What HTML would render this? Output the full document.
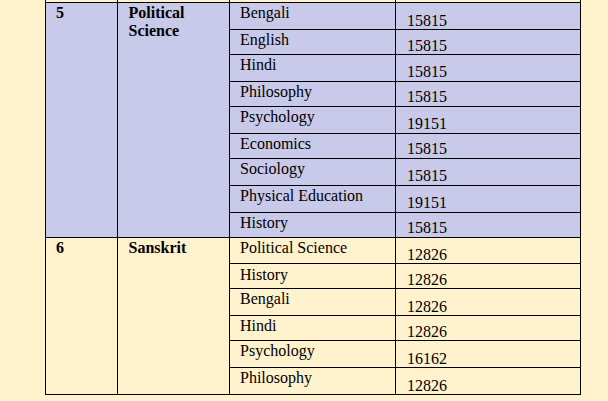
<!DOCTYPE html>
<html><head><meta charset="utf-8"><title>Table</title>
<style>
html,body{margin:0;padding:0;}
body{width:608px;height:401px;overflow:hidden;background:#FFF2CC;position:relative;font-family:"Liberation Serif",serif;font-size:16px;color:#000;}
.pg{position:absolute;left:0;top:0;width:608px;height:401px;overflow:hidden;background:#FFF2CC;}
.pu{position:absolute;background:#C9C9E9;}
.h{position:absolute;height:1px;background:#000;}
.v{position:absolute;width:1px;background:#000;}
.t{position:absolute;white-space:nowrap;line-height:18px;height:18px;}
.b{font-weight:bold;}
</style></head><body><div class="pg">
<div class="pu" style="left:45px;top:3px;width:535px;height:234px"></div>
<div class="h" style="left:45px;top:2px;width:536px"></div>
<div class="h" style="left:229px;top:29px;width:352px"></div>
<div class="h" style="left:229px;top:54px;width:352px"></div>
<div class="h" style="left:229px;top:81px;width:352px"></div>
<div class="h" style="left:229px;top:106px;width:352px"></div>
<div class="h" style="left:229px;top:133px;width:352px"></div>
<div class="h" style="left:229px;top:158px;width:352px"></div>
<div class="h" style="left:229px;top:185px;width:352px"></div>
<div class="h" style="left:229px;top:212px;width:352px"></div>
<div class="h" style="left:45px;top:237px;width:536px"></div>
<div class="h" style="left:229px;top:263px;width:352px"></div>
<div class="h" style="left:229px;top:288px;width:352px"></div>
<div class="h" style="left:229px;top:315px;width:352px"></div>
<div class="h" style="left:229px;top:340px;width:352px"></div>
<div class="h" style="left:229px;top:367px;width:352px"></div>
<div class="h" style="left:45px;top:394px;width:536px"></div>
<div class="v" style="left:45px;top:0;height:395px"></div>
<div class="v" style="left:117px;top:0;height:395px"></div>
<div class="v" style="left:229px;top:0;height:395px"></div>
<div class="v" style="left:395px;top:0;height:395px"></div>
<div class="v" style="left:580px;top:0;height:395px"></div>
<div class="t" style="left:240.00px;top:4px">Bengali</div>
<div class="t" style="left:407.00px;top:12px">15815</div>
<div class="t" style="left:240.00px;top:31px">English</div>
<div class="t" style="left:407.00px;top:37px">15815</div>
<div class="t" style="left:240.00px;top:56px">Hindi</div>
<div class="t" style="left:407.00px;top:63px">15815</div>
<div class="t" style="left:240.00px;top:83px">Philosophy</div>
<div class="t" style="left:407.00px;top:88px">15815</div>
<div class="t" style="left:240.00px;top:108px">Psychology</div>
<div class="t" style="left:407.00px;top:115px">19151</div>
<div class="t" style="left:240.00px;top:135px">Economics</div>
<div class="t" style="left:407.00px;top:140px">15815</div>
<div class="t" style="left:240.00px;top:160px">Sociology</div>
<div class="t" style="left:407.00px;top:167px">15815</div>
<div class="t" style="left:240.00px;top:187px">Physical Education</div>
<div class="t" style="left:407.00px;top:194px">19151</div>
<div class="t" style="left:240.00px;top:214px">History</div>
<div class="t" style="left:407.00px;top:219px">15815</div>
<div class="t" style="left:240.00px;top:239px">Political Science</div>
<div class="t" style="left:407.00px;top:246px">12826</div>
<div class="t" style="left:240.00px;top:266px">History</div>
<div class="t" style="left:407.00px;top:271px">12826</div>
<div class="t" style="left:240.00px;top:290px">Bengali</div>
<div class="t" style="left:407.00px;top:298px">12826</div>
<div class="t" style="left:240.00px;top:317px">Hindi</div>
<div class="t" style="left:407.00px;top:323px">12826</div>
<div class="t" style="left:240.00px;top:342px">Psychology</div>
<div class="t" style="left:407.00px;top:350px">16162</div>
<div class="t" style="left:240.00px;top:369px">Philosophy</div>
<div class="t" style="left:407.00px;top:377px">12826</div>
<div class="t b" style="left:56.00px;top:4px">5</div>
<div class="t b" style="left:128.50px;top:4px">Political</div>
<div class="t b" style="left:128.50px;top:22px">Science</div>
<div class="t b" style="left:56.00px;top:239px">6</div>
<div class="t b" style="left:128.50px;top:239px">Sanskrit</div>
</div></body></html>
